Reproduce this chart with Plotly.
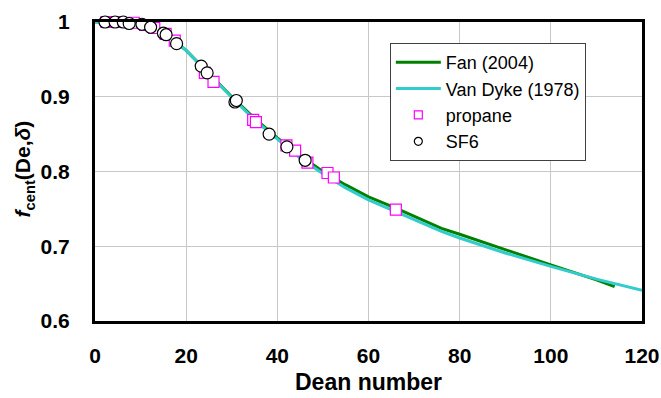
import plotly.graph_objects as go

# Fan (2004) correlation
fan_x = [0, 5, 10, 15, 20, 25, 30, 35, 40, 45, 50, 55, 60, 66, 70, 76, 80, 90, 100, 110, 114]
fan_y = [1.0, 0.9995, 0.997, 0.986, 0.962, 0.931, 0.900, 0.871, 0.845, 0.821, 0.800, 0.782, 0.766, 0.751, 0.740, 0.724, 0.716, 0.695, 0.675, 0.655, 0.646]

# Van Dyke (1978)
vd_x = [0, 5, 10, 15, 20, 25, 30, 35, 40, 45, 50, 55, 60, 66, 70, 76, 80, 90, 100, 110, 120]
vd_y = [1.0, 0.9995, 0.997, 0.986, 0.962, 0.930, 0.899, 0.869, 0.843, 0.818, 0.797, 0.778, 0.762, 0.746, 0.735, 0.720, 0.711, 0.691, 0.673, 0.656, 0.641]

# propane data
propane_x = [2.5, 5.0, 8.5, 11.0, 13.0, 15.5, 17.5, 24.1, 26.0, 34.7, 35.3, 42.0, 43.9, 46.6, 51.0, 52.4, 66.0]
propane_y = [1.0, 1.0, 0.999, 0.996, 0.992, 0.984, 0.975, 0.932, 0.920, 0.869, 0.866, 0.835, 0.828, 0.812, 0.798, 0.792, 0.749]

# SF6 data
sf6_x = [2.2, 4.4, 6.2, 7.5, 10.3, 12.2, 15.0, 15.6, 17.9, 23.3, 24.6, 30.7, 31.0, 38.2, 42.1, 46.1]
sf6_y = [1.0, 1.0, 1.0, 0.998, 0.997, 0.993, 0.985, 0.983, 0.971, 0.941, 0.932, 0.893, 0.895, 0.850, 0.833, 0.815]

x_ticks = [0, 20, 40, 60, 80, 100, 120]
y_ticks = [0.6, 0.7, 0.8, 0.9, 1.0]
y_tick_text = ["0.6", "0.7", "0.8", "0.9", "1"]

x_title = "Dean number"
y_title = "<i>f</i><sub>cent</sub>(De,<i>δ</i>)"

FONT = "Liberation Sans, Arial, sans-serif"

fig = go.Figure()
fig.add_trace(go.Scatter(x=fan_x, y=fan_y, mode="lines", name="Fan (2004)",
                         line=dict(color="#008000", width=3)))
fig.add_trace(go.Scatter(x=vd_x, y=vd_y, mode="lines", name="Van Dyke (1978)",
                         line=dict(color="#33cccc", width=3)))
fig.add_trace(go.Scatter(x=propane_x, y=propane_y, mode="markers", name="propane",
                         cliponaxis=False, showlegend=False,
                         marker=dict(symbol="square", size=11, color="white",
                                     line=dict(color="#ff00ff", width=1.2))))
fig.add_trace(go.Scatter(x=sf6_x, y=sf6_y, mode="markers", name="SF6",
                         cliponaxis=False, showlegend=False,
                         marker=dict(symbol="circle", size=12, color="white",
                                     line=dict(color="black", width=1.2))))
# legend entries (smaller legend symbols, as in the reference)
fig.add_trace(go.Scatter(x=[None], y=[None], mode="markers", name="propane",
                         marker=dict(symbol="square", size=8, color="white",
                                     line=dict(color="#ff00ff", width=1.2))))
fig.add_trace(go.Scatter(x=[None], y=[None], mode="markers", name="SF6",
                         marker=dict(symbol="circle", size=8, color="white",
                                     line=dict(color="black", width=1.2))))

fig.update_layout(
    width=661, height=398,
    margin=dict(l=95, r=19, t=22, b=77, autoexpand=False),
    paper_bgcolor="white", plot_bgcolor="white",
    font=dict(family=FONT, color="black"),
    showlegend=True,
    legend=dict(x=0.539, y=0.93, xanchor="left", yanchor="top",
                bgcolor="white", bordercolor="#404040", borderwidth=1,
                font=dict(size=18, family=FONT), itemwidth=45),
    annotations=[
        dict(text="<b>%s</b>" % x_title, xref="paper", yref="paper", x=0.5, y=-0.204,
             xanchor="center", yanchor="middle", showarrow=False,
             font=dict(size=23, family=FONT)),
        dict(text="<b>%s</b>" % y_title, xref="paper", yref="paper", x=-0.13, y=0.51,
             xanchor="center", yanchor="middle", showarrow=False, textangle=-90,
             font=dict(size=21, family=FONT)),
    ],
)
fig.update_xaxes(range=[0, 120], tickvals=x_ticks, showgrid=True, gridcolor="#c8c8c8", gridwidth=1,
                 showline=True, linecolor="black", linewidth=3, mirror=True, zeroline=False,
                 ticks="", tickfont=dict(size=21, family=FONT, weight="bold"),
                 ticklabelstandoff=14, automargin=False)
fig.update_yaxes(range=[0.6, 1.0], tickvals=y_ticks, ticktext=y_tick_text,
                 showgrid=True, gridcolor="#c8c8c8", gridwidth=1,
                 showline=True, linecolor="black", linewidth=3, mirror=True, zeroline=False,
                 ticks="", tickfont=dict(size=21, family=FONT, weight="bold"),
                 ticklabelstandoff=18, automargin=False)

fig.write_html("out.html", config={"displayModeBar": False},
               post_script="document.body.style.margin='0';")
